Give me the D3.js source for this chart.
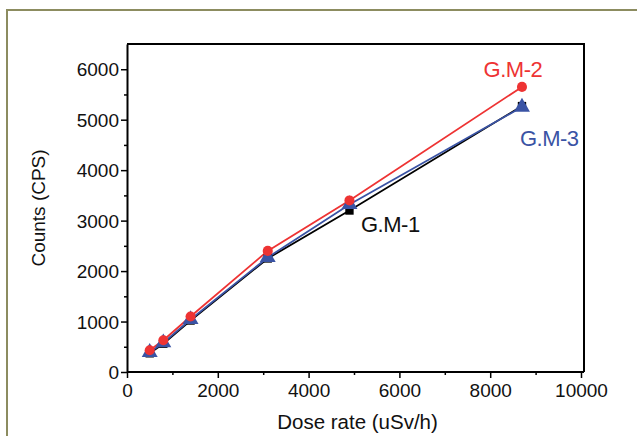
<!DOCTYPE html>
<html>
<head>
<meta charset="utf-8">
<script src="https://cdn.jsdelivr.net/npm/d3@7"></script>
<style>
  body { margin: 0; background: #fff; }
  svg text { font-family: "Liberation Sans", Arial, sans-serif; }
</style>
</head>
<body>
<svg id="chart" width="637" height="436"></svg>
<script>
var doseRate = [500, 800, 1400, 3100, 4900, 8700]
var gm1 = [370, 560, 1020, 2250, 3200, 5270]
var gm2 = [430, 630, 1100, 2400, 3400, 5650]
var gm3 = [390, 580, 1040, 2270, 3320, 5250]
var xTicks = [0, 2000, 4000, 6000, 8000, 10000]
var yTicks = [0, 1000, 2000, 3000, 4000, 5000, 6000]

var series = [
  { name: 'G.M-1', values: gm1, color: '#000000', shape: d3.symbolSquare, size: 70, lx: 5800, ly: 2780 },
  { name: 'G.M-3', values: gm3, color: '#3a53a4', shape: d3.symbolTriangle, size: 110, lx: 9300, ly: 4480 },
  { name: 'G.M-2', values: gm2, color: '#ee3333', shape: d3.symbolCircle, size: 80, lx: 8500, ly: 5840 }
]

function drawChart () {
  var svg = d3.select('#chart')
  var margin = { top: 44, left: 127, bottom: 64, right: 53 }
  var width = +svg.attr('width')
  var height = +svg.attr('height')
  var chartWidth = width - margin.left - margin.right
  var chartHeight = height - margin.top - margin.bottom

  // outer frame
  svg.append('rect')
    .attr('x', 7).attr('y', 10)
    .attr('width', 700).attr('height', 600)
    .attr('fill', 'none')
    .attr('stroke', '#8c8c60')
    .attr('stroke-width', 2)

  var x = d3.scaleLinear().domain([0, 10000]).range([0, chartWidth - 3])
  var y = d3.scaleLinear().domain([0, 6500]).range([chartHeight, 0])

  var g = svg.append('g')
    .attr('transform', 'translate(' + margin.left + ',' + margin.top + ')')

  // box top and right
  g.append('path')
    .attr('d', 'M0,0H' + chartWidth + 'V' + chartHeight)
    .attr('fill', 'none')
    .attr('stroke', '#000')
    .attr('stroke-width', 2)

  var xMinor = d3.range(1000, 10000, 2000)
  var yMinor = d3.range(500, 6500, 1000)
  var fmt = d3.format('d')

  var gx = g.append('g')
    .attr('transform', 'translate(0,' + chartHeight + ')')
    .call(d3.axisBottom(x).tickValues(xTicks).tickFormat(fmt).tickSize(6).tickPadding(5).tickSizeOuter(0))
  gx.append('g').call(d3.axisBottom(x).tickValues(xMinor).tickSize(3).tickFormat(''))

  var gy = g.append('g')
    .call(d3.axisLeft(y).tickValues(yTicks).tickFormat(fmt).tickSize(6).tickPadding(2).tickSizeOuter(0))
  gy.append('g').call(d3.axisLeft(y).tickValues(yMinor).tickSize(3).tickFormat(''))

  g.selectAll('.domain').attr('stroke-width', 2)
  g.selectAll('.tick line').attr('stroke-width', 1.5)
  g.selectAll('g > g > g .domain').remove()
  g.selectAll('.tick text')
    .attr('font-size', 19)
    .attr('fill', '#111')
  gx.selectAll('.tick text').attr('dy', '0.75em')
  gy.selectAll('.tick text').attr('dy', '0.35em')
  gx.select('.domain').attr('d', 'M0,0H' + chartWidth)

  g.append('text')
    .attr('x', chartWidth / 2 + 2)
    .attr('y', chartHeight + 57)
    .attr('text-anchor', 'middle')
    .attr('font-size', 20.5)
    .attr('fill', '#111')
    .text('Dose rate (uSv/h)')

  g.append('text')
    .attr('transform', 'translate(-82,' + (chartHeight / 2) + ') rotate(-90)')
    .attr('text-anchor', 'middle')
    .attr('font-size', 19)
    .attr('fill', '#111')
    .text('Counts (CPS)')

  var line = d3.line()
    .x(function (d, i) { return x(doseRate[i]) })
    .y(function (d) { return y(d) })

  series.forEach(function (s) {
    g.append('path')
      .datum(s.values)
      .attr('fill', 'none')
      .attr('stroke', s.color)
      .attr('stroke-width', 1.8)
      .attr('d', line)
  })

  series.forEach(function (s) {
    g.selectAll(null)
      .data(s.values).enter().append('path')
      .attr('transform', function (d, i) { return 'translate(' + x(doseRate[i]) + ',' + y(d) + ')' })
      .attr('d', d3.symbol().type(s.shape).size(s.size))
      .attr('fill', s.color)

    g.append('text')
      .attr('x', x(s.lx))
      .attr('y', y(s.ly))
      .attr('text-anchor', 'middle')
      .attr('font-size', 22)
      .attr('letter-spacing', -0.5)
      .attr('fill', s.color === '#000000' ? '#111' : s.color)
      .text(s.name)
  })
}

drawChart()
</script>
</body>
</html>
